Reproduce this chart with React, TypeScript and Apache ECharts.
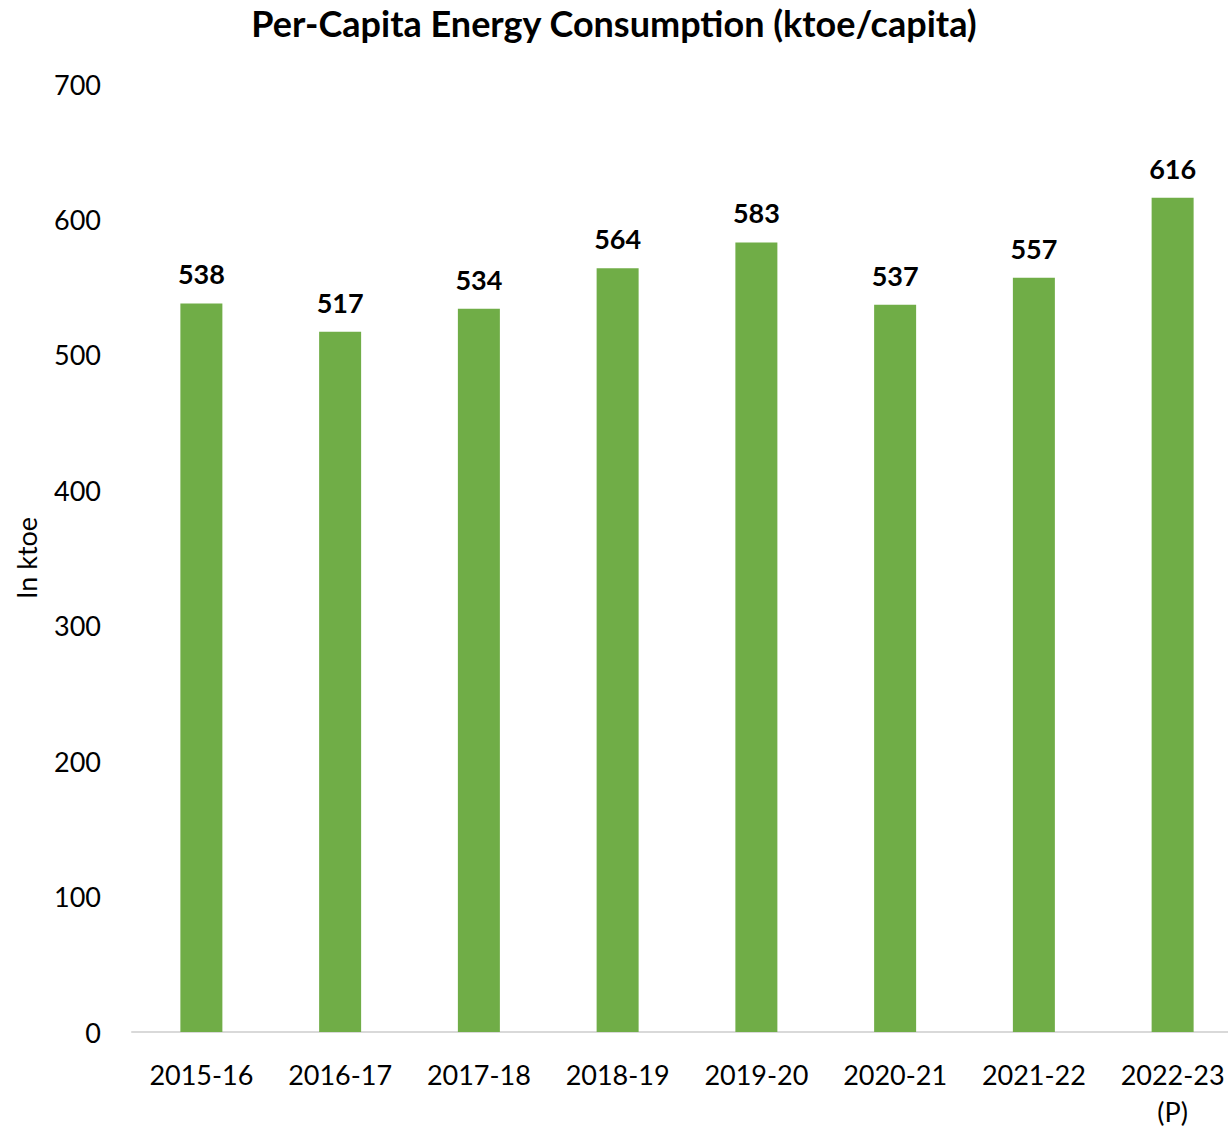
import React, { useEffect, useRef } from "react";
import * as echarts from "echarts";

const categories = ["2015-16", "2016-17", "2017-18", "2018-19", "2019-20", "2020-21", "2021-22", "2022-23\n(P)"];
const values = [538, 517, 534, 564, 583, 537, 557, 616];
const titleText = "Per-Capita Energy Consumption (ktoe/capita)";
const yAxisName = "In ktoe";

const FONT = "Lato";

export default function App() {
  const ref = useRef<HTMLDivElement>(null);
  useEffect(() => {
    if (!ref.current) return;
    const chart = echarts.init(ref.current, undefined, { renderer: "svg" });
    chart.setOption({
      animation: false,
      backgroundColor: "#ffffff",
      title: {
        text: titleText,
        left: "center",
        top: 0,
        textStyle: { fontFamily: FONT, fontWeight: "bold", fontSize: 36, color: "#000" },
      },
      grid: {
        left: 132,
        right: -14,
        top: 84,
        bottom: 97,
        containLabel: false,
        outerBoundsMode: "none",
      },
      xAxis: {
        type: "category",
        data: categories,
        axisLine: { show: true, lineStyle: { color: "#D9D9D9", width: 2 } },
        axisTick: { show: false },
        axisLabel: {
          fontFamily: FONT,
          fontSize: 27,
          color: "#000",
          margin: 24,
          lineHeight: 37,
          interval: 0,
        },
      },
      yAxis: {
        type: "value",
        min: 0,
        max: 700,
        interval: 100,
        name: yAxisName,
        nameLocation: "middle",
        nameGap: 92,
        nameTextStyle: { fontFamily: FONT, fontSize: 27, color: "#000" },
        splitLine: { show: false },
        axisLine: { show: false },
        axisTick: { show: false },
        axisLabel: { fontFamily: FONT, fontSize: 27, color: "#000", margin: 31 },
      },
      series: [
        {
          type: "bar",
          data: values,
          barWidth: 42,
          itemStyle: { color: "#70AD47" },
          label: {
            show: true,
            position: "top",
            distance: 16,
            fontFamily: FONT,
            fontWeight: "bold",
            fontSize: 27,
            color: "#000",
          },
        },
      ],
    });
    return () => chart.dispose();
  }, []);
  return (
    <div
      ref={ref}
      style={{ position: "absolute", left: 0, top: 0, width: 1228, height: 1129 }}
    />
  );
}
